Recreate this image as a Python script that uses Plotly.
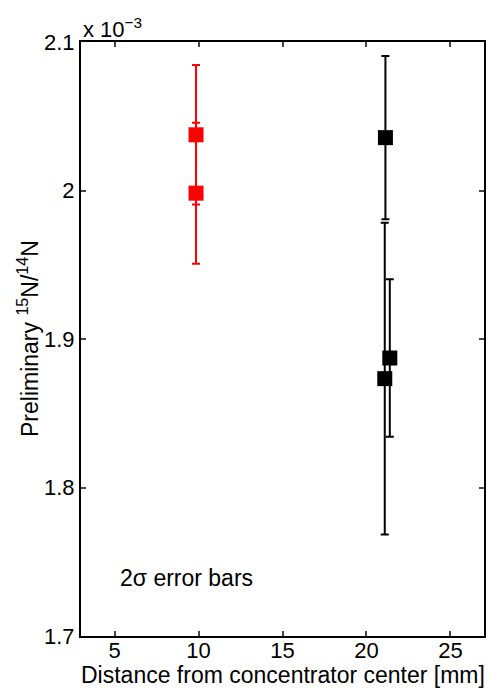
import plotly.graph_objects as go

# Values in units of 1e-3 (axis multiplier shown as "x 10^-3")
red_x = [9.85, 9.85]
red_y = [2.0375, 1.9982]
red_err = [0.047, 0.0475]

black_x = [21.13, 21.09, 21.39]
black_y = [2.0356, 1.8733, 1.8872]
black_err = [0.055, 0.105, 0.053]

x_ticks = [5, 10, 15, 20, 25]
y_ticks = [1.7, 1.8, 1.9, 2.0, 2.1]
y_ticklabels = ["1.7", "1.8", "1.9", "2", "2.1"]

FONT = "Liberation Sans, Arial, Helvetica, sans-serif"

fig = go.Figure()
fig.add_trace(go.Scatter(
    x=red_x, y=red_y, mode="markers",
    marker=dict(symbol="square", size=15, color="#ff0000", line=dict(width=0)),
    error_y=dict(type="data", array=red_err, color="#ff0000", thickness=2, width=4),
    showlegend=False,
))
fig.add_trace(go.Scatter(
    x=black_x, y=black_y, mode="markers",
    marker=dict(symbol="square", size=15, color="#000000", line=dict(width=0)),
    error_y=dict(type="data", array=black_err, color="#000000", thickness=2, width=4),
    showlegend=False,
))

fig.update_layout(
    width=489, height=688,
    margin=dict(l=81, r=5, t=42, b=52),
    paper_bgcolor="white", plot_bgcolor="white",
    font=dict(family=FONT, size=22, color="black"),
    xaxis=dict(
        range=[3, 27], tickvals=x_ticks, ticks="inside", ticklen=5, tickwidth=1.5,
        showline=True, linewidth=2, linecolor="black", mirror="ticks",
        showgrid=False, zeroline=False, automargin=False,
        ticklabelstandoff=-6,
        tickfont=dict(size=22),
    ),
    yaxis=dict(
        range=[1.7, 2.1], tickvals=y_ticks, ticktext=y_ticklabels,
        ticks="inside", ticklen=5, tickwidth=1.5,
        showline=True, linewidth=2, linecolor="black", mirror="ticks",
        showgrid=False, zeroline=False, automargin=False,
        tickfont=dict(size=22),
    ),
    annotations=[
        dict(text="Distance from concentrator center [mm]", xref="paper", yref="paper",
             x=0.5, y=0, xanchor="center", yanchor="middle", yshift=-39,
             showarrow=False, font=dict(size=23)),
        dict(text="Preliminary <sup>15</sup>N/<sup>14</sup>N", xref="paper", yref="paper",
             x=0, y=0.5, xanchor="center", yanchor="middle", xshift=-53,
             textangle=-90, showarrow=False, font=dict(size=23)),
        dict(text="x 10<sup>−3</sup>", xref="paper", yref="paper", x=0, y=1,
             xanchor="left", yanchor="bottom", showarrow=False, yshift=-2,
             font=dict(size=22)),
        dict(text="2σ error bars", xref="x", yref="y", x=5.2, y=1.739,
             xanchor="left", yanchor="middle", showarrow=False,
             font=dict(size=23)),
    ],
)

# remove the default 8px page margin so the figure fills the window exactly
fig.write_html(
    "out.html",
    config={"displayModeBar": False},
    post_script="document.body.style.margin='0';document.body.style.overflow='hidden';",
)
